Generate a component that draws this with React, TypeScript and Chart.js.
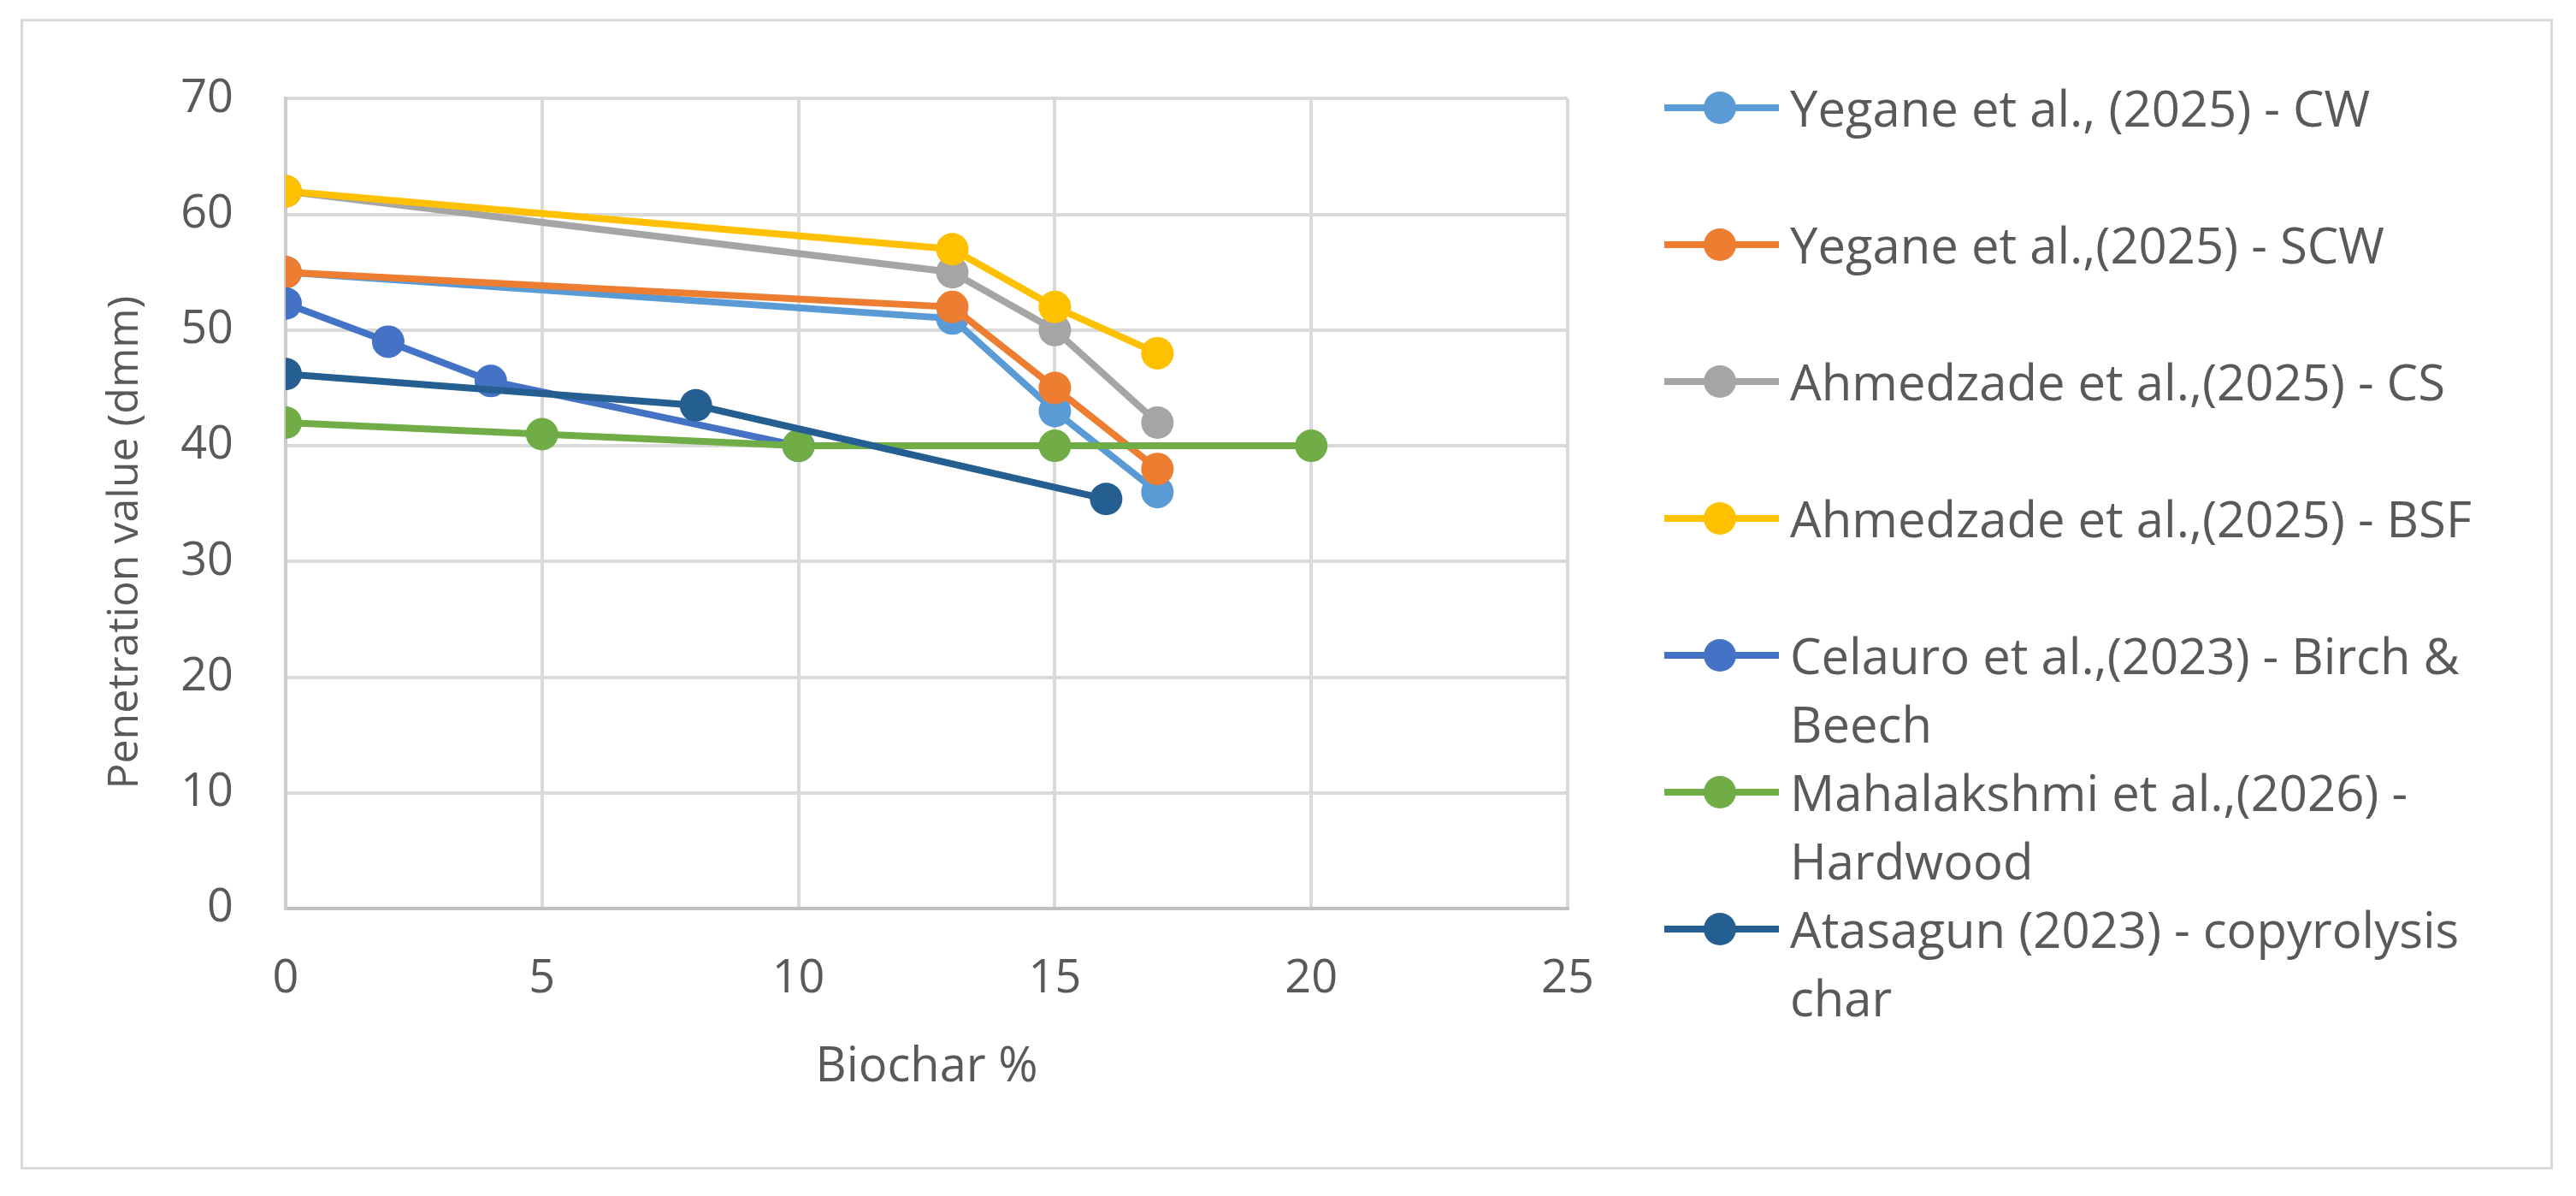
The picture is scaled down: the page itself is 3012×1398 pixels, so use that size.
import React, { useEffect, useRef } from 'react';
import { Chart, registerables } from 'chart.js';

Chart.register(...registerables);

// Series names and colours (Excel default palette)
const SERIES_NAMES = [
  'Yegane et al., (2025) - CW',
  'Yegane et al.,(2025) - SCW',
  'Ahmedzade et al.,(2025) - CS',
  'Ahmedzade et al.,(2025) - BSF',
  'Celauro et al.,(2023) - Birch & Beech',
  'Mahalakshmi et al.,(2026) - Hardwood',
  'Atasagun (2023) - copyrolysis char',
];
const SERIES_COLORS = ['#5B9BD5', '#ED7D31', '#A5A5A5', '#FFC000', '#4472C4', '#70AD47', '#255E91'];

// Biochar % (x) and penetration value in dmm (y), one pair of lists per series
const yeganeCwX = [0, 13, 15, 17];
const yeganeCwY = [55, 51, 43, 36];
const yeganeScwX = [0, 13, 15, 17];
const yeganeScwY = [55, 52, 45, 38];
const ahmedzadeCsX = [0, 13, 15, 17];
const ahmedzadeCsY = [62, 55, 50, 42];
const ahmedzadeBsfX = [0, 13, 15, 17];
const ahmedzadeBsfY = [62, 57, 52, 48];
const celauroX = [0, 2, 4, 10];
const celauroY = [52.3, 49, 45.6, 40];
const mahalakshmiX = [0, 5, 10, 15, 20];
const mahalakshmiY = [42, 41, 40, 40, 40];
const atasagunX = [0, 8, 16];
const atasagunY = [46.2, 43.5, 35.4];

const SERIES_X = [yeganeCwX, yeganeScwX, ahmedzadeCsX, ahmedzadeBsfX, celauroX, mahalakshmiX, atasagunX];
const SERIES_Y = [yeganeCwY, yeganeScwY, ahmedzadeCsY, ahmedzadeBsfY, celauroY, mahalakshmiY, atasagunY];

// Axis ranges / tick steps
const X_MIN = 0;
const X_MAX = 25;
const X_STEP = 5;
const Y_MIN = 0;
const Y_MAX = 70;
const Y_STEP = 10;

const X_TITLE = 'Biochar %';
const Y_TITLE = 'Penetration value (dmm)';

const FONT = "'Open Sans', 'Noto Sans', sans-serif";
const TEXT_COLOR = '#595959';
const GRID_COLOR = '#d9d9d9';

const App: React.FC = () => {
  const chartRef = useRef<HTMLCanvasElement>(null);
  const chartInstance = useRef<Chart | null>(null);

  useEffect(() => {
    if (!chartRef.current) return;
    if (chartInstance.current) chartInstance.current.destroy();
    const ctx = chartRef.current.getContext('2d');
    if (!ctx) return;

    chartInstance.current = new Chart(ctx, {
      type: 'line',
      data: {
        datasets: SERIES_NAMES.map((name, i) => ({
          label: name,
          data: SERIES_X[i].map((x, j) => ({ x, y: SERIES_Y[i][j] })),
          borderColor: SERIES_COLORS[i],
          backgroundColor: SERIES_COLORS[i],
          borderWidth: 8,
          pointRadius: 19,
          pointBorderWidth: 0,
          pointBackgroundColor: SERIES_COLORS[i],
          tension: 0,
          // later series are painted on top, like Excel
          order: SERIES_NAMES.length - i,
        })),
      },
      options: {
        responsive: true,
        maintainAspectRatio: false,
        animation: false,
        layout: { padding: { top: 75, right: 91, left: 0, bottom: 0 } },
        plugins: {
          legend: { display: false }, // custom legend
          tooltip: { enabled: false },
        },
        scales: {
          x: {
            type: 'linear',
            min: X_MIN,
            max: X_MAX,
            grid: { color: GRID_COLOR, lineWidth: 4, drawTicks: false },
            border: { color: '#bfbfbf', width: 4 },
            ticks: {
              stepSize: X_STEP,
              padding: 50,
              color: TEXT_COLOR,
              font: { family: FONT, size: 54 },
            },
            title: {
              display: true,
              text: X_TITLE,
              color: TEXT_COLOR,
              font: { family: FONT, size: 56 },
              padding: { top: 0, bottom: 85 },
            },
            afterFit: (scale: any) => {
              scale.height = 305;
            },
          },
          y: {
            type: 'linear',
            min: Y_MIN,
            max: Y_MAX,
            grid: { color: GRID_COLOR, lineWidth: 4, drawTicks: false },
            border: { color: '#cccccc', width: 4 },
            ticks: {
              stepSize: Y_STEP,
              padding: 61,
              color: TEXT_COLOR,
              font: { family: FONT, size: 54 },
            },
            title: {
              display: true,
              // trailing blanks push the title a little below the plot centre, as in the original
              text: Y_TITLE + '\u00a0'.repeat(7),
              color: TEXT_COLOR,
              font: { family: FONT, size: 50 },
              padding: { top: 93, bottom: 0 },
            },
            afterFit: (scale: any) => {
              scale.width = 310;
            },
          },
        },
      },
    } as any);

    return () => {
      if (chartInstance.current) {
        chartInstance.current.destroy();
        chartInstance.current = null;
      }
    };
  }, []);

  return (
    <div style={{ position: 'absolute', left: 0, top: 0, width: 3012, height: 1398, background: '#fff' }}>
      {/* Chart frame */}
      <div
        style={{
          position: 'absolute',
          left: 24,
          top: 22,
          width: 2961,
          height: 1345,
          border: `3px solid ${GRID_COLOR}`,
          boxSizing: 'border-box',
        }}
      />

      {/* Chart canvas */}
      <div style={{ position: 'absolute', left: 24, top: 22, width: 1900, height: 1345 }}>
        <canvas ref={chartRef} />
      </div>

      {/* Custom legend */}
      <div style={{ position: 'absolute', left: 1946, top: 86 }}>
        {SERIES_NAMES.map((name, i) => (
          <div key={name} style={{ display: 'flex', alignItems: 'flex-start', height: 160 }}>
            <div style={{ position: 'relative', width: 134, height: 80, flex: 'none' }}>
              <div
                style={{ position: 'absolute', left: 0, right: 0, top: 36, height: 8, background: SERIES_COLORS[i] }}
              />
              <div
                style={{
                  position: 'absolute',
                  left: 46,
                  top: 21,
                  width: 38,
                  height: 38,
                  borderRadius: '50%',
                  background: SERIES_COLORS[i],
                }}
              />
            </div>
            <div
              style={{
                marginLeft: 13,
                width: 840,
                lineHeight: '80px',
                fontSize: 58,
                fontFamily: FONT,
                color: TEXT_COLOR,
              }}
            >
              {name}
            </div>
          </div>
        ))}
      </div>
    </div>
  );
};

export default App;
